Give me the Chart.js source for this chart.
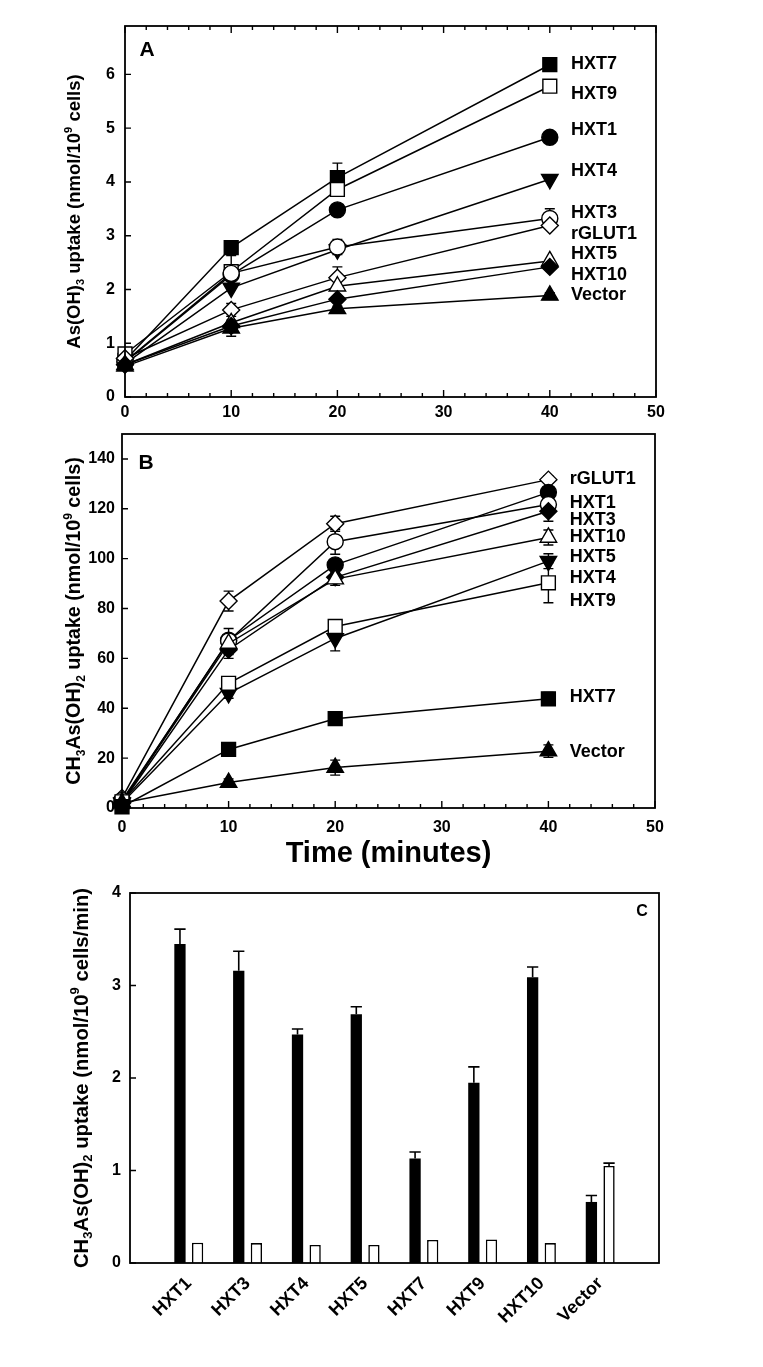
<!DOCTYPE html>
<html>
<head>
<meta charset="utf-8">
<script src="https://cdn.jsdelivr.net/npm/chart.js@4.4.1/dist/chart.umd.min.js"></script>
<style>
  html, body { margin: 0; padding: 0; background: #fff; }
  canvas { position: absolute; left: 0; display: block; }
</style>
</head>
<body>
<canvas id="chartA" width="763" height="430" style="top:0px"></canvas>
<canvas id="chartB" width="763" height="445" style="top:430px"></canvas>
<canvas id="chartC" width="763" height="507" style="top:860px"></canvas>
<script>
// ---------- data ----------
const times = [0, 10, 20, 40];
const xTicks = [0, 10, 20, 30, 40, 50];

// panel A: As(OH)3 uptake (nmol/10^9 cells)
const aHXT7   = [0.68, 2.78, 4.08, 6.18];
const aHXT9   = [0.80, 2.33, 3.86, 5.78];
const aHXT1   = [0.65, 2.27, 3.48, 4.83];
const aHXT4   = [0.62, 2.03, 2.74, 4.05];
const aHXT3   = [0.66, 2.30, 2.79, 3.32];
const aRGLUT1 = [0.72, 1.62, 2.22, 3.19];
const aHXT5   = [0.60, 1.38, 2.06, 2.53];
const aHXT10  = [0.60, 1.32, 1.82, 2.42];
const aVector = [0.57, 1.28, 1.64, 1.89];
const aErrHXT7   = [0, 0.05, 0.27, 0.05];
const aErrHXT9   = [0, 0.30, 0.10, 0.05];
const aErrHXT3   = [0, 0.05, 0.14, 0.18];
const aErrRGLUT1 = [0, 0.12, 0.20, 0.05];
const aErrVector = [0, 0.15, 0.05, 0.05];
const aYTicks = [0, 1, 2, 3, 4, 5, 6];

// panel B: CH3As(OH)2 uptake (nmol/10^9 cells)
const bRGLUT1 = [4.0, 83.0, 114.0, 131.7];
const bHXT1   = [2.5, 67.3, 97.5, 126.6];
const bHXT3   = [3.0, 67.0, 106.8, 121.7];
const bHXT10  = [2.0, 63.5, 92.5, 119.0];
const bHXT5   = [2.5, 66.0, 91.8, 108.5];
const bHXT4   = [2.0, 46.0, 68.0, 99.0];
const bHXT9   = [2.5, 50.0, 72.8, 90.3];
const bHXT7   = [0.5, 23.5, 35.8, 43.8];
const bVector = [2.0, 10.2, 16.2, 22.8];
const bErrRGLUT1 = [0, 4, 3, 1.5];
const bErrHXT3   = [0, 2, 5, 2];
const bErrHXT10  = [0, 2, 2, 4];
const bErrHXT5   = [0, 6, 2.5, 3];
const bErrHXT4   = [0, 2, 5, 3];
const bErrHXT9   = [0, 2, 1.5, 8];
const bErrHXT7   = [0, 1.5, 1.5, 2.5];
const bErrVector = [0, 1.5, 3, 2.5];
const bYTicks = [0, 20, 40, 60, 80, 100, 120, 140];

// panel C: initial rates (nmol/10^9 cells/min)
const cLabels = ['HXT1', 'HXT3', 'HXT4', 'HXT5', 'HXT7', 'HXT9', 'HXT10', 'Vector'];
const cUptake     = [3.45, 3.16, 2.47, 2.69, 1.13, 1.95, 3.09, 0.66];
const cUptakeErr  = [0.16, 0.21, 0.06, 0.08, 0.07, 0.17, 0.11, 0.07];
const cControl    = [0.22, 0.215, 0.195, 0.195, 0.25, 0.255, 0.215, 1.05];
const cControlErr = [0, 0, 0, 0, 0, 0, 0, 0.03];
const cYTicks = [0, 1, 2, 3, 4];

// ---------- styles ----------
const FONT = '"Liberation Sans", Arial, Helvetica, sans-serif';
const bold = size => ({ family: FONT, size: size, weight: 'bold' });

const marker = {
  HXT1:   { shape: 'circle',   fill: '#000', r: 8 },
  HXT3:   { shape: 'circle',   fill: '#fff', r: 8 },
  HXT4:   { shape: 'triangle', fill: '#000', r: 9.5, rot: 180 },
  HXT5:   { shape: 'triangle', fill: '#fff', r: 9.5 },
  HXT7:   { shape: 'rect',     fill: '#000', r: 9.8 },
  HXT9:   { shape: 'rect',     fill: '#fff', r: 9.8 },
  HXT10:  { shape: 'rectRot',  fill: '#000', r: 8.5 },
  rGLUT1: { shape: 'rectRot',  fill: '#fff', r: 8.5 },
  Vector: { shape: 'triangle', fill: '#000', r: 9.5 }
};

function lineSets(names, values, errors) {
  return names.map(name => {
    const m = marker[name];
    return {
      label: name,
      data: times.map((t, i) => ({ x: t, y: values[name][i] })),
      err: errors[name] || null,
      borderColor: '#000',
      borderWidth: 1.5,
      tension: 0,
      pointStyle: m.shape,
      pointRotation: m.rot || 0,
      pointRadius: m.r,
      pointBackgroundColor: m.fill,
      pointBorderColor: '#000',
      pointBorderWidth: 1.4,
      clip: false
    };
  });
}

// text with sub/superscripts, centred on (cx, cy)
function drawRich(ctx, segs, cx, cy, size, rot) {
  const small = Math.round(size * 0.62);
  const fontOf = s => 'bold ' + (s.sub || s.sup ? small : size) + 'px ' + FONT;
  ctx.save();
  ctx.translate(cx, cy);
  ctx.rotate(rot || 0);
  ctx.fillStyle = '#000';
  ctx.textBaseline = 'middle';
  ctx.textAlign = 'left';
  const w = segs.map(s => { ctx.font = fontOf(s); return ctx.measureText(s.t).width; });
  let x = -w.reduce((a, b) => a + b, 0) / 2;
  segs.forEach((s, i) => {
    ctx.font = fontOf(s);
    const dy = s.sub ? size * 0.32 : s.sup ? -size * 0.3 : 0;
    ctx.fillText(s.t, x, dy);
    x += w[i];
  });
  ctx.restore();
}

function seg(ctx, x1, y1, x2, y2) {
  ctx.moveTo(x1, y1);
  ctx.lineTo(x2, y2);
}

const panelPlugin = {
  id: 'panel',
  beforeDatasetsDraw(chart, args, o) {
    if (o.errors !== 'line') return;
    const { ctx, scales: { x, y } } = chart;
    ctx.save();
    ctx.strokeStyle = '#000';
    ctx.lineWidth = 1.4;
    ctx.beginPath();
    chart.data.datasets.forEach(ds => {
      if (!ds.err) return;
      ds.data.forEach((p, i) => {
        const e = ds.err[i];
        if (!e) return;
        const px = x.getPixelForValue(p.x);
        const y1 = y.getPixelForValue(p.y + e);
        const y2 = y.getPixelForValue(p.y - e);
        seg(ctx, px, y1, px, y2);
        seg(ctx, px - 5, y1, px + 5, y1);
        seg(ctx, px - 5, y2, px + 5, y2);
      });
    });
    ctx.stroke();
    ctx.restore();
  },
  afterDatasetsDraw(chart, args, o) {
    if (o.errors !== 'bar') return;
    const { ctx, scales: { y } } = chart;
    ctx.save();
    ctx.strokeStyle = '#000';
    ctx.lineWidth = 1.6;
    ctx.beginPath();
    chart.data.datasets.forEach((ds, di) => {
      if (!ds.err) return;
      chart.getDatasetMeta(di).data.forEach((bar, i) => {
        const v = ds.data[i];
        const e = ds.err[i];
        if (v == null || !e) return;
        const top = y.getPixelForValue(v + e);
        seg(ctx, bar.x, bar.y, bar.x, top);
        seg(ctx, bar.x - bar.width / 2, top, bar.x + bar.width / 2, top);
      });
    });
    ctx.stroke();
    ctx.restore();
  },
  afterDraw(chart, args, o) {
    const { ctx, chartArea: a, scales: { x, y } } = chart;
    ctx.save();
    ctx.strokeStyle = '#000';
    ctx.lineWidth = 1.8;
    ctx.strokeRect(a.left, a.top, a.right - a.left, a.bottom - a.top);

    ctx.lineWidth = 1.4;
    ctx.beginPath();
    if (o.xMinor) {
      for (let v = x.min; v <= x.max; v += o.xMinor) {
        const px = x.getPixelForValue(v);
        const len = v % o.xMajor === 0 ? 7 : 4;
        seg(ctx, px, a.bottom, px, a.bottom - len);
        if (o.topTicks) seg(ctx, px, a.top, px, a.top + len);
      }
    }
    y.ticks.forEach(t => {
      const py = y.getPixelForValue(t.value);
      seg(ctx, a.left, py, a.left + 6, py);
    });
    ctx.stroke();

    ctx.fillStyle = '#000';
    ctx.textBaseline = 'middle';
    ctx.textAlign = 'left';
    ctx.font = 'bold 18px ' + FONT;
    (o.seriesLabels || []).forEach(l => {
      ctx.fillText(l.text, x.getPixelForValue(l.x), y.getPixelForValue(l.y));
    });

    if (o.letter) {
      ctx.textAlign = 'center';
      ctx.font = 'bold ' + o.letter.size + 'px ' + FONT;
      const lx = o.letter.dx >= 0 ? a.left + o.letter.dx : a.right + o.letter.dx;
      ctx.fillText(o.letter.text, lx, a.top + o.letter.dy);
    }
    ctx.restore();

    drawRich(ctx, o.yTitle.segs, o.yTitle.x, (a.top + a.bottom) / 2, o.yTitle.size, -Math.PI / 2);
    if (o.xTitle) {
      drawRich(ctx, [{ t: o.xTitle.text }], (a.left + a.right) / 2, o.xTitle.y, o.xTitle.size, 0);
    }
  }
};

function fixTicks(values) {
  return scale => { scale.ticks = values.map(v => ({ value: v })); };
}
// pin the axis sizes so the plot box lands where the reference has it
function fitX(h) {
  return s => { s.height = h; s.paddingLeft = 0; s.paddingRight = 0; };
}
function fitY(w) {
  return s => { s.width = w; s.paddingTop = 0; s.paddingBottom = 0; };
}

function timeChart(id, datasets, box, yMax, yTicks, panelOpts) {
  return new Chart(document.getElementById(id), {
    type: 'line',
    data: { datasets: datasets },
    options: {
      responsive: false,
      animation: false,
      events: [],
      layout: { autoPadding: false, padding: { top: box.top, right: box.right, left: 0, bottom: 0 } },
      plugins: { legend: { display: false }, tooltip: { enabled: false }, panel: panelOpts },
      scales: {
        x: {
          type: 'linear', min: 0, max: 50,
          afterBuildTicks: fixTicks(xTicks),
          afterFit: fitX(box.xHeight),
          grid: { display: false, drawTicks: false }, border: { display: false },
          ticks: { font: bold(16), color: '#000', padding: box.xPad, maxRotation: 0 }
        },
        y: {
          type: 'linear', min: 0, max: yMax,
          afterBuildTicks: fixTicks(yTicks),
          afterFit: fitY(box.left),
          grid: { display: false, drawTicks: false }, border: { display: false },
          ticks: { font: bold(16), color: '#000', padding: box.yPad }
        }
      }
    },
    plugins: [panelPlugin]
  });
}

// ---------- panel A ----------
const aNames = ['Vector', 'HXT10', 'HXT5', 'rGLUT1', 'HXT3', 'HXT4', 'HXT1', 'HXT9', 'HXT7'];
const aValues = { HXT7: aHXT7, HXT9: aHXT9, HXT1: aHXT1, HXT4: aHXT4, HXT3: aHXT3,
                  rGLUT1: aRGLUT1, HXT5: aHXT5, HXT10: aHXT10, Vector: aVector };
const aErrors = { HXT7: aErrHXT7, HXT9: aErrHXT9, HXT3: aErrHXT3, rGLUT1: aErrRGLUT1, Vector: aErrVector };

timeChart('chartA', lineSets(aNames, aValues, aErrors),
  { top: 26, right: 107, left: 125, xHeight: 33, xPad: 6, yPad: 10 }, 6.9, aYTicks, {
    errors: 'line', xMinor: 2, xMajor: 10, topTicks: true,
    letter: { text: 'A', size: 21, dx: 22, dy: 24 },
    seriesLabels: [
      { text: 'HXT7', x: 42, y: 6.2 }, { text: 'HXT9', x: 42, y: 5.64 },
      { text: 'HXT1', x: 42, y: 4.97 }, { text: 'HXT4', x: 42, y: 4.2 },
      { text: 'HXT3', x: 42, y: 3.42 }, { text: 'rGLUT1', x: 42, y: 3.04 },
      { text: 'HXT5', x: 42, y: 2.65 }, { text: 'HXT10', x: 42, y: 2.27 },
      { text: 'Vector', x: 42, y: 1.9 }
    ],
    yTitle: { x: 75, size: 18.5, segs: [
      { t: 'As(OH)' }, { t: '3', sub: true }, { t: ' uptake (nmol/10' }, { t: '9', sup: true }, { t: ' cells)' }
    ] }
  });

// ---------- panel B ----------
const bNames = ['Vector', 'HXT7', 'HXT9', 'HXT4', 'HXT5', 'HXT10', 'HXT3', 'HXT1', 'rGLUT1'];
const bValues = { rGLUT1: bRGLUT1, HXT1: bHXT1, HXT3: bHXT3, HXT10: bHXT10, HXT5: bHXT5,
                  HXT4: bHXT4, HXT9: bHXT9, HXT7: bHXT7, Vector: bVector };
const bErrors = { rGLUT1: bErrRGLUT1, HXT3: bErrHXT3, HXT10: bErrHXT10, HXT5: bErrHXT5,
                  HXT4: bErrHXT4, HXT9: bErrHXT9, HXT7: bErrHXT7, Vector: bErrVector };

timeChart('chartB', lineSets(bNames, bValues, bErrors),
  { top: 4, right: 108, left: 122, xHeight: 67, xPad: 10, yPad: 7 }, 150, bYTicks, {
    errors: 'line', xMinor: 2, xMajor: 10, topTicks: false,
    letter: { text: 'B', size: 21, dx: 24, dy: 29 },
    seriesLabels: [
      { text: 'rGLUT1', x: 42, y: 131.8 }, { text: 'HXT1', x: 42, y: 122.2 },
      { text: 'HXT3', x: 42, y: 115.5 }, { text: 'HXT10', x: 42, y: 108.8 },
      { text: 'HXT5', x: 42, y: 100.5 }, { text: 'HXT4', x: 42, y: 92.1 },
      { text: 'HXT9', x: 42, y: 83.2 }, { text: 'HXT7', x: 42, y: 44.6 },
      { text: 'Vector', x: 42, y: 22.3 }
    ],
    yTitle: { x: 75, size: 19.7, segs: [
      { t: 'CH' }, { t: '3', sub: true }, { t: 'As(OH)' }, { t: '2', sub: true },
      { t: ' uptake (nmol/10' }, { t: '9', sup: true }, { t: ' cells)' }
    ] },
    xTitle: { text: 'Time (minutes)', size: 29, y: 424 }
  });

// ---------- panel C ----------
new Chart(document.getElementById('chartC'), {
  type: 'bar',
  data: {
    labels: [''].concat(cLabels, ['']),
    datasets: [
      { label: 'uptake', data: [null].concat(cUptake, [null]), err: [null].concat(cUptakeErr, [null]),
        backgroundColor: '#000', borderColor: '#000', borderWidth: 0,
        categoryPercentage: 0.6, barPercentage: 0.64 },
      { label: 'control', data: [null].concat(cControl, [null]), err: [null].concat(cControlErr, [null]),
        backgroundColor: '#fff', borderColor: '#000', borderWidth: 1.6, borderSkipped: 'bottom',
        categoryPercentage: 0.6, barPercentage: 0.64 }
    ]
  },
  options: {
    responsive: false,
    animation: false,
    events: [],
    layout: { autoPadding: false, padding: { top: 33, right: 104, left: 0, bottom: 0 } },
    plugins: {
      legend: { display: false }, tooltip: { enabled: false },
      panel: {
        errors: 'bar',
        letter: { text: 'C', size: 16, dx: -17, dy: 19 },
        yTitle: { x: 82, size: 20.3, segs: [
          { t: 'CH' }, { t: '3', sub: true }, { t: 'As(OH)' }, { t: '2', sub: true },
          { t: ' uptake (nmol/10' }, { t: '9', sup: true }, { t: ' cells/min)' }
        ] }
      }
    },
    scales: {
      x: {
        type: 'category', offset: false,
        afterFit: fitX(104),
        grid: { display: false, drawTicks: false }, border: { display: false },
        ticks: { font: bold(18), color: '#000', padding: 10, minRotation: 45, maxRotation: 45, autoSkip: false }
      },
      y: {
        type: 'linear', min: 0, max: 4,
        afterBuildTicks: fixTicks(cYTicks),
        afterFit: fitY(130),
        grid: { display: false, drawTicks: false }, border: { display: false },
        ticks: { font: bold(16), color: '#000', padding: 9 }
      }
    }
  },
  plugins: [panelPlugin]
});
</script>
</body>
</html>
